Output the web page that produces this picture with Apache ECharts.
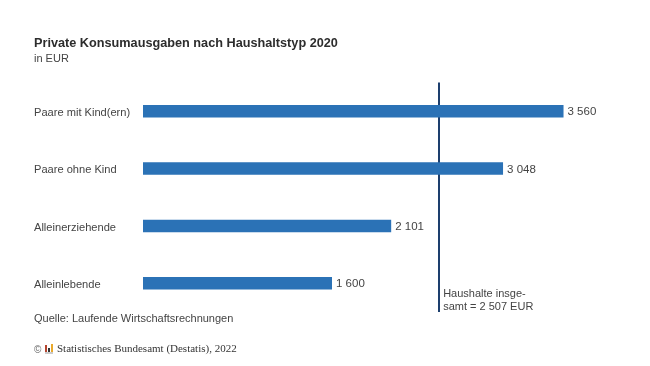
<!DOCTYPE html>
<html><head><meta charset="utf-8">
<style>html,body{margin:0;padding:0;background:#fff}#c{width:650px;height:366px}</style>
<script src="https://cdn.jsdelivr.net/npm/echarts@6/dist/echarts.min.js"></script>
</head><body><div id="c"></div>
<script>
const categories = ["Paare mit Kind(ern)", "Paare ohne Kind", "Alleinerziehende", "Alleinlebende"];
const values = [3560, 3048, 2101, 1600];
const totalValue = 2507;
const totalLabel = "Haushalte insge-\nsamt = 2 507 EUR";
const titleText = "Private Konsumausgaben nach Haushaltstyp 2020";
const subtitleText = "in EUR";
const sourceText = "Quelle: Laufende Wirtschaftsrechnungen";
const copyrightText = "Statistisches Bundesamt (Destatis), 2022";
const fmt = v => String(v).replace(/\B(?=(\d{3})+$)/g, " ");
const font = "Liberation Sans";
const textColor = "#444444";
const chart = echarts.init(document.getElementById("c"), null, {renderer: "canvas"});
chart.setOption({
  animation: false,
  backgroundColor: "#fff",
  textStyle: {fontFamily: font},
  grid: {left: 143, top: 82.5, width: 472.5, height: 229.5, containLabel: false},
  xAxis: {type: "value", min: 0, max: 4000, show: false},
  yAxis: {type: "category", inverse: true, data: categories,
    axisLine: {show: false}, axisTick: {show: false},
    axisLabel: {align: "left", margin: 109, formatter: "{a|{value}}",
      rich: {a: {color: textColor, fontSize: 11.1, fontFamily: font, padding: [3, 0, 0, 0]}}}},
  series: [
    {type: "bar", z: 1, data: [], silent: true,
      markLine: {silent: true, symbol: "none", z: 1,
        lineStyle: {color: "#1d3f6e", width: 2, type: "solid"},
        label: {show: true, position: "end", rotate: 0, align: "left", verticalAlign: "bottom",
          distance: 0, offset: [4, 2], formatter: totalLabel, color: textColor, fontSize: 11, lineHeight: 13.5, fontFamily: font},
        data: [{xAxis: totalValue}]}},
    {type: "bar", z: 3, barGap: "-100%", barWidth: 12.5, data: values,
      itemStyle: {color: "#2b72b6"},
      label: {show: true, position: "right", distance: 4, offset: [0, 1], formatter: p => fmt(p.value),
        color: textColor, fontSize: 11.5, fontFamily: font}}
  ],
  graphic: [
    {type: "text", left: 34, top: 37, style: {text: titleText, font: "bold 12.7px " + font, fill: "#2d2d2d"}},
    {type: "text", left: 34, top: 53, style: {text: subtitleText, font: "11px " + font, fill: textColor}},
    {type: "text", left: 34, top: 313, style: {text: sourceText, font: "11px " + font, fill: textColor}},
    {type: "text", left: 34, top: 345, style: {text: "©", font: "10px " + font, fill: "#666"}},
    {type: "rect", shape: {x: 45, y: 345, width: 2, height: 7}, style: {fill: "#b5442e"}},
    {type: "rect", shape: {x: 48, y: 348, width: 2, height: 4}, style: {fill: "#333"}},
    {type: "rect", shape: {x: 51, y: 344, width: 2, height: 8}, style: {fill: "#e9a92b"}},
    {type: "rect", shape: {x: 45, y: 352.5, width: 8, height: 1}, style: {fill: "#999"}},
    {type: "text", left: 57, top: 344, style: {text: copyrightText, font: "11px Liberation Serif", fill: "#333"}}
  ]
});
</script></body></html>
